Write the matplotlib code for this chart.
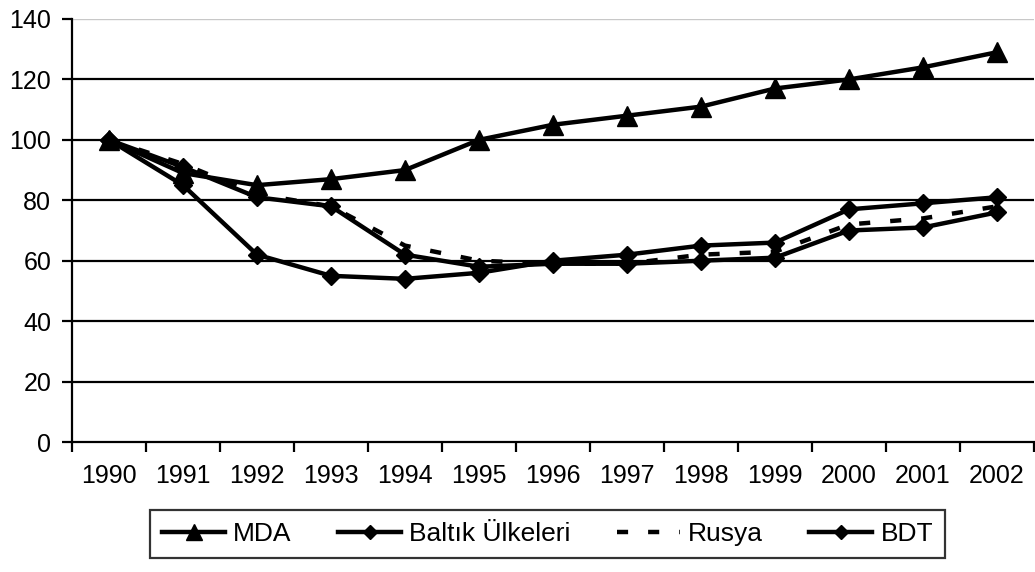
import matplotlib
matplotlib.use("Agg")
import matplotlib.pyplot as plt
import numpy as np

years = ["1990", "1991", "1992", "1993", "1994", "1995", "1996",
         "1997", "1998", "1999", "2000", "2001", "2002"]
mda = [100, 89, 85, 87, 90, 100, 105, 108, 111, 117, 120, 124, 129]
baltik = [100, 85, 62, 55, 54, 56, 60, 62, 65, 66, 77, 79, 81]
rusya = [100, 92, 82, 78, 65, 60, 59, 59, 62, 63, 72, 74, 78]
bdt = [100, 91, 81, 78, 62, 58, 59, 59, 60, 61, 70, 71, 76]
yticks = [0, 20, 40, 60, 80, 100, 120, 140]

plt.rcParams['font.family'] = ['Liberation Sans', 'DejaVu Sans']

fig = plt.figure(figsize=(10.35, 5.72), dpi=100)
ax = fig.add_axes([72/1035, 1-442/572, (1034-72)/1035, (442-19)/572])

x = np.arange(len(years))
lw = 3.2
ax.plot(x, mda, color='black', lw=lw, marker='^', ms=15, label='MDA', zorder=5)
ax.plot(x, baltik, color='black', lw=lw, marker='D', ms=9, label='Baltık Ülkeleri', zorder=4)
ax.plot(x, rusya, color='black', lw=lw, linestyle=(0, (2.5, 4.5)), label='Rusya', zorder=3)
ax.plot(x, bdt, color='black', lw=lw, marker='D', ms=9, label='BDT', zorder=4)

ax.set_xlim(-0.5, len(years) - 0.5)
ax.set_ylim(0, 140)
ax.set_yticks(yticks)
for v in yticks[1:-1]:
    ax.axhline(v, color='black', lw=1.6, zorder=1)
ax.axhline(140, color='#c8c8c8', lw=1.0, zorder=1)

ax.set_xticks(np.arange(-0.5, len(years)), minor=False)
ax.set_xticklabels([])
ax.set_xticks(x, minor=True)
ax.set_xticklabels(years, minor=True)
ax.tick_params(axis='x', which='major', length=7, width=1.6, direction='out')
ax.tick_params(axis='x', which='minor', length=0, pad=16, labelsize=18)
ax.tick_params(axis='y', length=7, width=1.6, direction='out', labelsize=18, pad=8)

for s in ['top', 'right']:
    ax.spines[s].set_visible(False)
for s in ['left', 'bottom']:
    ax.spines[s].set_linewidth(1.6)
    ax.spines[s].set_color('black')

leg = fig.legend(loc='center', bbox_to_anchor=((155+940)/2/1035, 1-534/572),
                 ncol=4, frameon=True, fancybox=False, fontsize=19,
                 handlelength=2.4, handletextpad=0.3, columnspacing=1.75,
                 borderpad=0.45, markerscale=0.75)
leg.get_frame().set_edgecolor('black')
leg.get_frame().set_linewidth(1.6)

fig.savefig('out.png', dpi=100)
